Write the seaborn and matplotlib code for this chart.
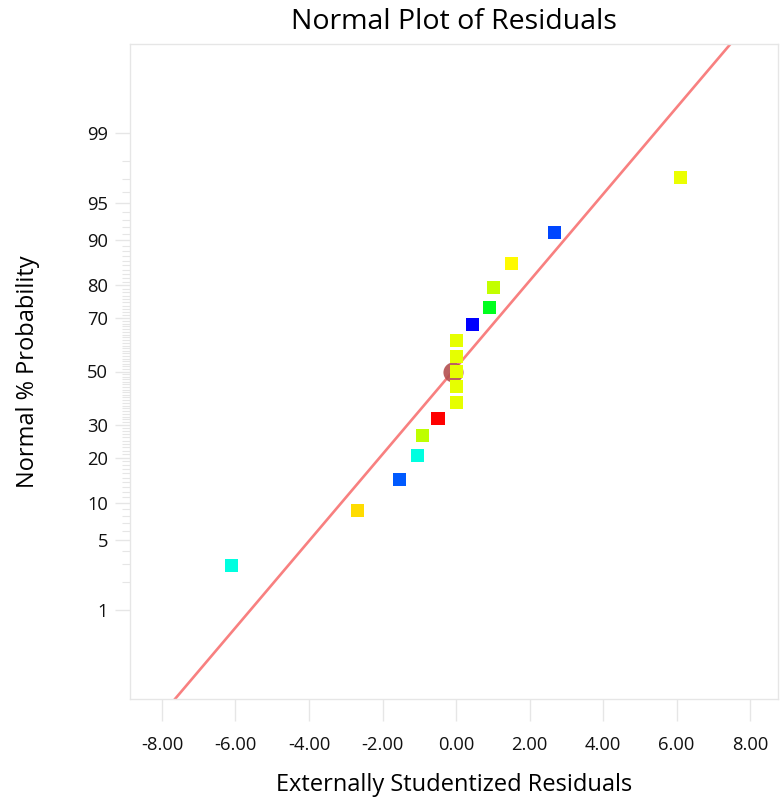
import matplotlib
matplotlib.use("Agg")
import matplotlib.pyplot as plt
import seaborn as sns
import pandas as pd
from statistics import NormalDist

# ---- data ----
residuals = [-6.10, -2.67, -1.55, -1.06, -0.90, -0.49, 0.00, 0.00, 0.00, 0.00,
             0.00, 0.46, 0.90, 1.03, 1.52, 2.67, 6.10]
probability = [2.94, 8.82, 14.7, 20.6, 26.5, 32.4, 38.2, 44.1, 50.0, 55.9,
               61.8, 67.6, 73.5, 79.4, 85.3, 91.2, 97.1]
point_colors = ["#00FFE0", "#FFDC00", "#005AFF", "#00FFE0", "#BEFF00", "#FF0000",
                "#E6FF00", "#E6FF00", "#E6FF00", "#E6FF00", "#E6FF00", "#0000FF",
                "#00FF1E", "#C3FF00", "#FFFA00", "#0046FF", "#EBFF00"]
line_center = -0.09
line_scale = 2.365
major_ticks = [1, 5, 10, 20, 30, 50, 70, 80, 90, 95, 99]
minor_ticks = list(range(1, 100))
x_ticks = [-8, -6, -4, -2, 0, 2, 4, 6, 8]

nd = NormalDist()
def z(p):
    return nd.inv_cdf(p / 100.0)

sns.set_theme(style="white")
plt.rcParams['font.family'] = ['Open Sans', 'DejaVu Sans']

fig = plt.figure(figsize=(7.8, 8.01), dpi=100)
ax = fig.add_axes([130/780, 1 - 699/801, 648/780, 655/801])

df = pd.DataFrame({"x": residuals, "z": [z(p) for p in probability],
                   "idx": [str(i) for i in range(len(residuals))]})

# fit line
zl = [-3.4, 3.4]
ax.plot([line_center + line_scale * v for v in zl], zl, color="#F88080", lw=1.9, zorder=2)
# center marker
ax.plot([line_center], [0], "o", color="#B45050", alpha=0.9, markersize=14.5,
        markeredgewidth=0, zorder=3)

sns.scatterplot(data=df, x="x", y="z", hue="idx", palette=point_colors, marker="s",
                s=88, edgecolor="none", legend=False, ax=ax, zorder=4)

ax.set_xlim(-8.87, 8.76)
ax.set_ylim(-3.195, 3.195)

ax.set_xticks(x_ticks)
ax.set_xticklabels([f"{v:.2f}" for v in x_ticks])
ax.set_yticks([z(p) for p in major_ticks])
ax.set_yticklabels([str(p) for p in major_ticks])
ax.set_yticks([z(p) for p in minor_ticks if p not in major_ticks], minor=True)

ax.tick_params(axis="x", which="major", direction="out", length=16, width=1,
               color="#E6E6E6", pad=11, labelsize=13.2, labelcolor="#111111", bottom=True)
ax.tick_params(axis="y", which="major", direction="out", length=10.8, width=1,
               color="#E6E6E6", pad=5, labelsize=13.2, labelcolor="#111111", left=True)
ax.tick_params(axis="y", which="minor", direction="out", length=5.8, width=0.8,
               color="#E6E6E6", left=True)

for s in ax.spines.values():
    s.set_color("#E6E6E6")
    s.set_linewidth(1)

ax.set_xlabel("Externally Studentized Residuals", fontsize=17, color="#000000", labelpad=13)
ax.set_ylabel("Normal % Probability", fontsize=17, color="#000000", labelpad=34)
fig.text(454/780, 1 - 22/801, "Normal Plot of Residuals", fontsize=20.5,
         ha="center", va="center", color="#000000")

fig.savefig("out.png", dpi=100)
